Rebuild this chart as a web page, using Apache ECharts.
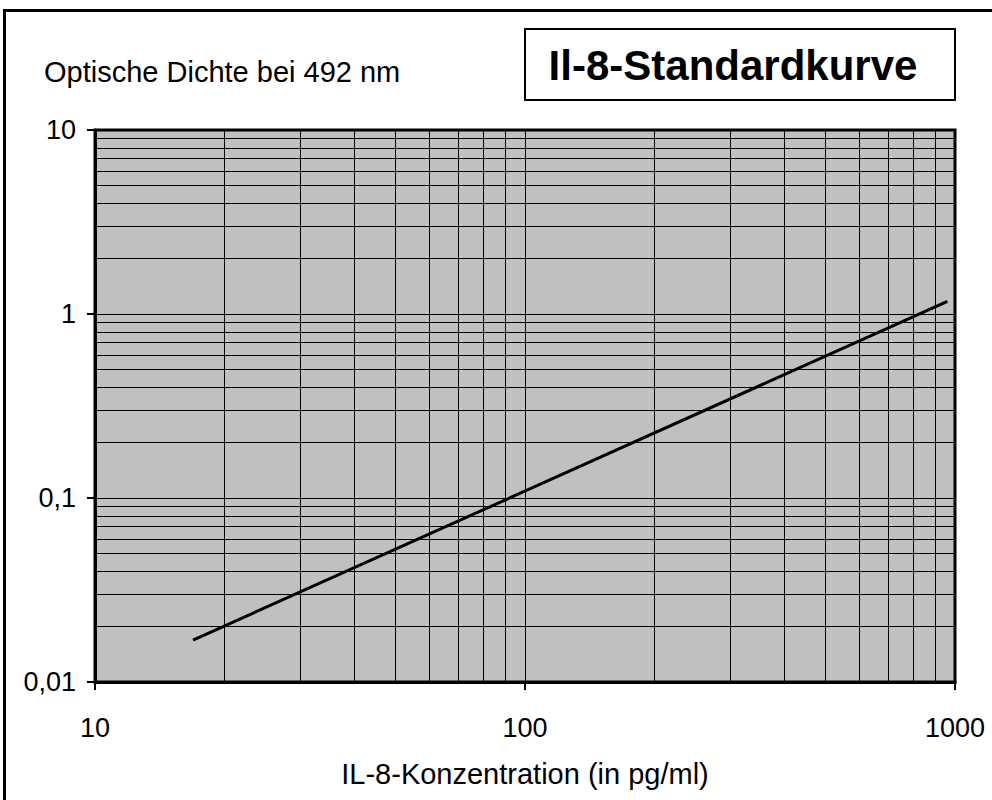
<!DOCTYPE html>
<html>
<head>
<meta charset="utf-8">
<script src="https://cdn.jsdelivr.net/npm/echarts@6/dist/echarts.min.js"></script>
<style>
html,body{margin:0;padding:0;background:#fff;}
#chart{width:992px;height:800px;}
</style>
</head>
<body>
<div id="chart"></div>
<script>
// ---- data ----
var titleText = 'Il-8-Standardkurve';
var yAxisTitle = 'Optische Dichte bei 492 nm';
var xAxisTitle = 'IL-8-Konzentration (in pg/ml)';
var xRange = [10, 1000];
var yRange = [0.01, 10];
// standard curve (concentration pg/ml, optical density)
var curveX = [16.9, 960];
var curveY = [0.0169, 1.17];
// minor gridline values
var xMinorGrid = [20, 30, 40, 50, 60, 70, 80, 90, 200, 300, 400, 500, 600, 700, 800, 900];
var yMinorGrid = [0.02, 0.03, 0.04, 0.05, 0.06, 0.07, 0.08, 0.09,
                  0.2, 0.3, 0.4, 0.5, 0.6, 0.7, 0.8, 0.9,
                  2, 3, 4, 5, 6, 7, 8, 9];

var FONT = 'Liberation Sans, Arial, sans-serif';
var chart = echarts.init(document.getElementById('chart'), null, {renderer: 'svg'});

var gridLines = [];
xMinorGrid.forEach(function (v) { gridLines.push({xAxis: v}); });
yMinorGrid.forEach(function (v) { gridLines.push({yAxis: v}); });

function fmt(v) {
  return String(Number(Number(v).toPrecision(6))).replace('.', ',');
}

chart.setOption({
  animation: false,
  backgroundColor: '#fff',
  title: [{
    text: yAxisTitle,
    left: 44,
    top: 57,
    padding: 0,
    textStyle: {fontFamily: FONT, fontWeight: 'normal', fontSize: 29, color: '#000'}
  }],
  graphic: [
    {type: 'rect', shape: {x: 4.5, y: 10.5, width: 1000, height: 1000},
     style: {fill: 'none', stroke: '#000', lineWidth: 3}, z: 100, silent: true},
    {type: 'rect', shape: {x: 525, y: 29, width: 430, height: 71},
     style: {fill: '#fff', stroke: '#000', lineWidth: 2}, z: 100, silent: true},
    {type: 'text', x: 733, y: 65, z: 101, silent: true,
     style: {text: titleText, fontFamily: FONT, fontWeight: 'bold', fontSize: 42,
             fill: '#000', align: 'center', verticalAlign: 'middle'}}
  ],
  grid: {
    left: 95, top: 130, right: 37, bottom: 118,
    show: true, backgroundColor: '#c0c0c0', borderColor: '#000', borderWidth: 3,
    containLabel: false
  },
  xAxis: {
    type: 'log', logBase: 10, min: xRange[0], max: xRange[1],
    name: xAxisTitle, nameLocation: 'middle', nameGap: 77,
    nameTextStyle: {fontFamily: FONT, fontSize: 29, color: '#000'},
    axisLine: {show: true, lineStyle: {color: '#000', width: 3}},
    axisTick: {show: true, inside: false, length: 8, lineStyle: {color: '#000', width: 2}},
    axisLabel: {fontFamily: FONT, fontSize: 27, color: '#000', margin: 32, formatter: fmt},
    splitLine: {show: true, lineStyle: {color: '#000', width: 1}},
    minorTick: {show: false}, minorSplitLine: {show: false}
  },
  yAxis: {
    type: 'log', logBase: 10, min: yRange[0], max: yRange[1],
    axisLine: {show: true, lineStyle: {color: '#000', width: 3}},
    axisTick: {show: true, inside: false, length: 8, lineStyle: {color: '#000', width: 2}},
    axisLabel: {fontFamily: FONT, fontSize: 27, color: '#000', margin: 19, formatter: fmt},
    splitLine: {show: true, lineStyle: {color: '#000', width: 1}},
    minorTick: {show: false}, minorSplitLine: {show: false}
  },
  series: [
    {
      type: 'line', name: 'grid', data: [], z: 1, silent: true,
      markLine: {
        silent: true, symbol: ['none', 'none'], label: {show: false},
        lineStyle: {color: '#000', width: 1, type: 'solid'},
        emphasis: {disabled: true},
        animation: false,
        data: gridLines
      }
    },
    {
      type: 'line', name: 'Standardkurve', z: 5,
      data: curveX.map(function (x, i) { return [x, curveY[i]]; }),
      showSymbol: false, symbol: 'none',
      lineStyle: {color: '#000', width: 3}
    }
  ]
});
</script>
</body>
</html>
